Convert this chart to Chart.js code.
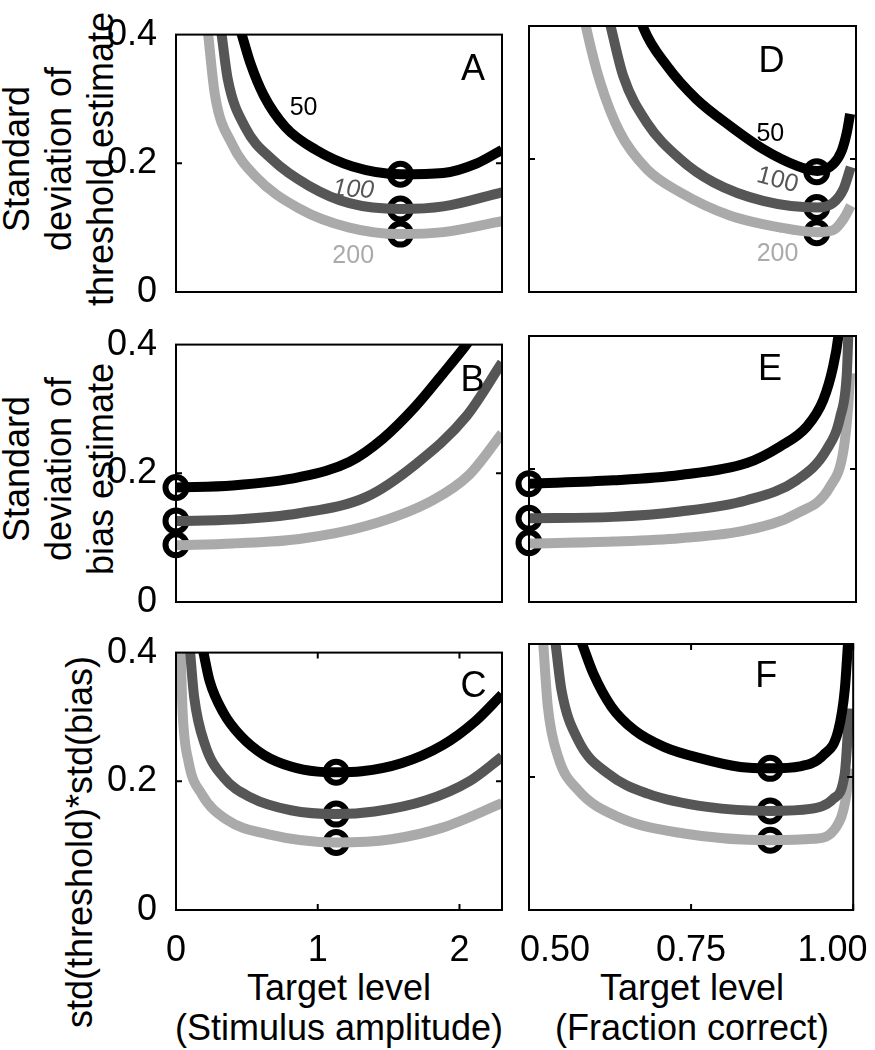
<!DOCTYPE html>
<html>
<head>
<meta charset="utf-8">
<script src="https://cdn.jsdelivr.net/npm/chart.js@4.4.1/dist/chart.umd.min.js"></script>
<style>
body { margin: 0; background: #fff; }
#fig { position: relative; width: 875px; height: 1050px; overflow: hidden; font-family: 'Liberation Sans', Arial, sans-serif; color: #000; }
#fig canvas { position: absolute; }
.ytitle { position: absolute; width: 420px; text-align: center; font-size: 36px; line-height: 42px; transform: rotate(-90deg); white-space: nowrap; }
.xtitle { position: absolute; width: 400px; text-align: center; font-size: 36px; line-height: 40px; white-space: nowrap; }
</style>
</head>
<body>
<div id="fig">
  <div class="ytitle" style="left:-151px; top:96px;">Standard<br>deviation of<br>threshold estimate</div>
  <div class="ytitle" style="left:-151px; top:406px;">Standard<br>deviation of<br>bias estimate</div>
  <div class="ytitle" style="left:-130px; top:821px;">std(threshold)*std(bias)</div>
  <div class="xtitle" style="left:139px; top:968px;">Target level<br>(Stimulus amplitude)</div>
  <div class="xtitle" style="left:492px; top:968px;">Target level<br>(Fraction correct)</div>
</div>
<script>
// axis ticks
const sdTicks = [0, 0.2, 0.4];
const sdTickLabels = ['0', '0.2', '0.4'];
const ampTicks = [0, 1, 2];
const ampTickLabels = ['0', '1', '2'];
const fracTicks = [0.54, 0.75, 0.968];      // where the labels sit in the figure
const fracTickLabels = ['0.50', '0.75', '1.00'];
const fracMarks = [0.5, 0.75, 1.0];
const nLabels = ['50', '100', '200'];

// A: sd of threshold vs stimulus amplitude  (N = 50, 100, 200)
const thrAmp50  = [[0.437,0.42],[0.464,0.4],[0.524,0.356],[0.618,0.306],[0.773,0.256],[0.986,0.221],[1.246,0.195],[1.583,0.183],[1.886,0.185],[2.123,0.200],[2.30,0.221]];
const thrAmp100 = [[0.31,0.42],[0.322,0.4],[0.365,0.331],[0.488,0.256],[0.678,0.206],[0.938,0.165],[1.223,0.138],[1.583,0.129],[1.886,0.133],[2.30,0.155]];
const thrAmp200 = [[0.217,0.42],[0.227,0.4],[0.275,0.306],[0.393,0.231],[0.559,0.180],[0.867,0.130],[1.223,0.100],[1.583,0.090],[1.886,0.093],[2.30,0.110]];
// B: sd of bias vs stimulus amplitude
const biasAmp50  = [[0,0.178],[0.4,0.181],[0.87,0.194],[1.225,0.218],[1.46,0.254],[1.69,0.304],[1.88,0.354],[2.035,0.396],[2.115,0.42]];
const biasAmp100 = [[0,0.126],[0.4,0.128],[0.87,0.138],[1.34,0.163],[1.69,0.214],[2.05,0.289],[2.30,0.372]];
const biasAmp200 = [[0,0.088],[0.4,0.091],[0.87,0.098],[1.34,0.118],[1.81,0.158],[2.07,0.198],[2.30,0.262]];
// C: product vs stimulus amplitude
const prodAmp50  = [[0.175,0.42],[0.194,0.4],[0.237,0.356],[0.336,0.306],[0.455,0.271],[0.62,0.241],[0.81,0.223],[1.0,0.215],[1.13,0.214],[1.31,0.2155],[1.59,0.228],[1.88,0.256],[2.11,0.293],[2.30,0.335]];
const prodAmp100 = [[0.092,0.42],[0.1,0.4],[0.128,0.331],[0.206,0.256],[0.336,0.206],[0.526,0.175],[0.81,0.155],[1.13,0.149],[1.40,0.153],[1.76,0.170],[2.07,0.200],[2.30,0.238]];
const prodAmp200 = [[0.030,0.42],[0.033,0.4],[0.047,0.306],[0.088,0.231],[0.182,0.180],[0.36,0.140],[0.645,0.118],[1.13,0.105],[1.52,0.110],[1.88,0.128],[2.30,0.166]];
// D: sd of threshold vs fraction correct
const thrFrac50  = [[0.668,0.42],[0.675,0.397],[0.711,0.340],[0.756,0.290],[0.807,0.250],[0.858,0.215],[0.909,0.190],[0.941,0.182],[0.965,0.192],[0.978,0.212],[0.986,0.24],[0.991,0.268]];
const thrFrac100 = [[0.620,0.42],[0.626,0.395],[0.644,0.325],[0.680,0.255],[0.731,0.200],[0.782,0.165],[0.858,0.137],[0.941,0.127],[0.965,0.134],[0.981,0.155],[0.992,0.188]];
const thrFrac200 = [[0.583,0.42],[0.588,0.395],[0.609,0.315],[0.639,0.240],[0.680,0.185],[0.731,0.150],[0.807,0.115],[0.884,0.097],[0.941,0.090],[0.965,0.093],[0.981,0.110],[0.992,0.130]];
// E: sd of bias vs fraction correct
const biasFrac50  = [[0.5,0.178],[0.629,0.183],[0.731,0.191],[0.833,0.209],[0.884,0.234],[0.925,0.264],[0.95,0.304],[0.965,0.354],[0.973,0.399],[0.975,0.42]];
const biasFrac100 = [[0.5,0.126],[0.629,0.128],[0.731,0.136],[0.833,0.153],[0.909,0.183],[0.955,0.229],[0.976,0.279],[0.986,0.344],[0.988,0.394],[0.989,0.42]];
const biasFrac200 = [[0.5,0.088],[0.629,0.091],[0.731,0.096],[0.833,0.108],[0.909,0.133],[0.960,0.173],[0.981,0.229],[0.988,0.294],[0.991,0.344]];
// F: product vs fraction correct
const prodFrac50  = [[0.574,0.42],[0.582,0.4],[0.599,0.356],[0.627,0.306],[0.663,0.270],[0.709,0.245],[0.765,0.228],[0.826,0.215],[0.872,0.213],[0.918,0.216],[0.954,0.233],[0.977,0.270],[0.987,0.331],[0.992,0.4],[0.9935,0.42]];
const prodFrac100 = [[0.538,0.42],[0.541,0.4],[0.550,0.331],[0.576,0.255],[0.622,0.205],[0.683,0.175],[0.775,0.155],[0.872,0.149],[0.934,0.152],[0.969,0.167],[0.987,0.205],[0.994,0.303]];
const prodFrac200 = [[0.5205,0.42],[0.522,0.4],[0.529,0.306],[0.545,0.230],[0.576,0.180],[0.637,0.140],[0.739,0.115],[0.872,0.105],[0.939,0.107],[0.974,0.125],[0.989,0.170],[0.994,0.213]];

// optimum markers (x, then y for N = 50, 100, 200)
const optThrAmpX = 1.583, optThrAmpY = [0.183, 0.129, 0.090];
const optBiasAmpX = 0,    optBiasAmpY = [0.178, 0.126, 0.089];
const optProdAmpX = 1.13, optProdAmpY = [0.214, 0.149, 0.105];
const optThrFracX = 0.940, optThrFracY = [0.181, 0.127, 0.089];
const optBiasFracX = 0.5, optBiasFracY = [0.178, 0.126, 0.089];
const optProdFracX = 0.872, optProdFracY = [0.213, 0.149, 0.105];

const grays = ['#000000', '#565656', '#aaaaaa'];
const PADL = 80, PADT = 24, PADR = 24, PADB = 64;
const FONT = "'Liberation Sans', Arial, sans-serif";

Chart.defaults.font.family = FONT;
Chart.defaults.font.size = 36;
Chart.defaults.color = '#000';

const frame = {
    id: 'frame',
    afterDatasetsDraw(chart, args, o) {
        const ctx = chart.ctx, a = chart.chartArea;
        const x = chart.scales.x, y = chart.scales.y;
        ctx.save();
        ctx.strokeStyle = '#000';
        ctx.lineWidth = 2;
        ctx.strokeRect(a.left, a.top, a.right - a.left, a.bottom - a.top);
        ctx.beginPath();
        (o.yMarks || []).forEach(v => {
            const p = y.getPixelForValue(v);
            ctx.moveTo(a.left, p); ctx.lineTo(a.left + 6, p);
            ctx.moveTo(a.right, p); ctx.lineTo(a.right - 6, p);
        });
        (o.xMarks || []).forEach(v => {
            const p = x.getPixelForValue(v);
            ctx.moveTo(p, a.top); ctx.lineTo(p, a.top + 6);
            ctx.moveTo(p, a.bottom); ctx.lineTo(p, a.bottom - 6);
        });
        ctx.stroke();

        ctx.fillStyle = '#000';
        ctx.textAlign = 'center';
        ctx.textBaseline = 'middle';
        ctx.font = '36px ' + FONT;
        ctx.fillText(o.letter, a.right - o.letterDx, a.top + o.letterDy);

        (o.notes || []).forEach((n, i) => {
            ctx.save();
            ctx.font = (n[3] ? 'italic ' : '') + '25px ' + FONT;
            ctx.translate(x.getPixelForValue(n[0]), y.getPixelForValue(n[1]));
            ctx.rotate((n[2] || 0) * Math.PI / 180);
            ctx.fillStyle = grays[i];
            ctx.fillText(nLabels[i], 0, 0);
            ctx.restore();
        });
        ctx.restore();
    }
};

function curves(series) {
    return series.map((pts, i) => ({
        data: pts.map(p => ({x: p[0], y: p[1]})),
        showLine: true,
        borderColor: grays[i],
        borderWidth: 10,
        borderJoinStyle: 'round',
        pointRadius: 0,
        cubicInterpolationMode: 'monotone',
        clip: 0
    }));
}

function rings(x, ys) {
    return {
        data: ys.map(v => ({x: x, y: v})),
        showLine: false,
        pointRadius: 10.5,
        pointBorderWidth: 6,
        pointBorderColor: '#000',
        pointBackgroundColor: 'rgba(0,0,0,0)',
        clip: false
    };
}

const cols = [{l: 176, r: 502}, {l: 529, r: 856}];
const rows = [{t: 26, b: 292}, {t: 336, b: 602}, {t: 644, b: 910}];

function panel(col, row, series, ring, extra) {
    const fig = document.getElementById('fig');
    const c = cols[col], r = rows[row];
    const w = (c.r - c.l) + PADL + PADR, h = (r.b - r.t) + PADT + PADB;
    const cv = document.createElement('canvas');
    cv.width = w; cv.height = h;
    cv.style.left = (c.l - PADL) + 'px';
    cv.style.top = (r.t - PADT) + 'px';
    cv.style.width = w + 'px';
    cv.style.height = h + 'px';
    fig.appendChild(cv);

    const isAmp = col === 0;
    const xTicks = isAmp ? ampTicks : fracTicks;
    const xTickLabels = isAmp ? ampTickLabels : fracTickLabels;

    new Chart(cv, {
        type: 'scatter',
        data: { datasets: curves(series).concat([ring]) },
        options: {
            responsive: false,
            animation: false,
            devicePixelRatio: 1,
            events: [],
            layout: { padding: { top: PADT, right: PADR, left: 0, bottom: 0 } },
            plugins: {
                legend: { display: false },
                tooltip: { enabled: false },
                frame: {
                    yMarks: [0.2],
                    xMarks: row === 2 ? (isAmp ? ampTicks : fracMarks) : [],
                    letter: extra.letter,
                    letterDx: extra.dx,
                    letterDy: extra.dy,
                    notes: extra.notes
                }
            },
            scales: {
                x: {
                    type: 'linear',
                    min: isAmp ? 0 : 0.5,
                    max: isAmp ? 2.3 : 1.0,
                    afterBuildTicks: ax => { ax.ticks = xTicks.map(v => ({value: v})); },
                    afterFit: ax => { ax.height = PADB; },
                    grid: { display: false },
                    border: { display: false },
                    ticks: {
                        display: row === 2,
                        padding: 11,
                        maxRotation: 0,
                        autoSkip: false,
                        callback: (v, i) => xTickLabels[i]
                    }
                },
                y: {
                    type: 'linear',
                    min: 0,
                    max: 0.4,
                    afterBuildTicks: ax => { ax.ticks = sdTicks.map(v => ({value: v})); },
                    afterFit: ax => { ax.width = PADL; },
                    grid: { display: false },
                    border: { display: false },
                    ticks: {
                        display: isAmp,
                        padding: 11,
                        callback: (v, i) => sdTickLabels[i]
                    }
                }
            }
        },
        plugins: [frame]
    });
}

panel(0, 0, [thrAmp50, thrAmp100, thrAmp200], rings(optThrAmpX, optThrAmpY),
    { letter: 'A', dx: 29, dy: 35, notes: [[0.90, 0.286], [1.25, 0.159, 4, true], [1.25, 0.056]] });
panel(0, 1, [biasAmp50, biasAmp100, biasAmp200], rings(optBiasAmpX, optBiasAmpY),
    { letter: 'B', dx: 29.5, dy: 36 });
panel(0, 2, [prodAmp50, prodAmp100, prodAmp200], rings(optProdAmpX, optProdAmpY),
    { letter: 'C', dx: 28.5, dy: 34.5 });
panel(1, 0, [thrFrac50, thrFrac100, thrFrac200], rings(optThrFracX, optThrFracY),
    { letter: 'D', dx: 84.5, dy: 36, notes: [[0.869, 0.238], [0.880, 0.168, 15], [0.880, 0.057]] });
panel(1, 1, [biasFrac50, biasFrac100, biasFrac200], rings(optBiasFracX, optBiasFracY),
    { letter: 'E', dx: 86, dy: 34 });
panel(1, 2, [prodFrac50, prodFrac100, prodFrac200], rings(optProdFracX, optProdFracY),
    { letter: 'F', dx: 87, dy: 33.5 });
</script>
</body>
</html>
